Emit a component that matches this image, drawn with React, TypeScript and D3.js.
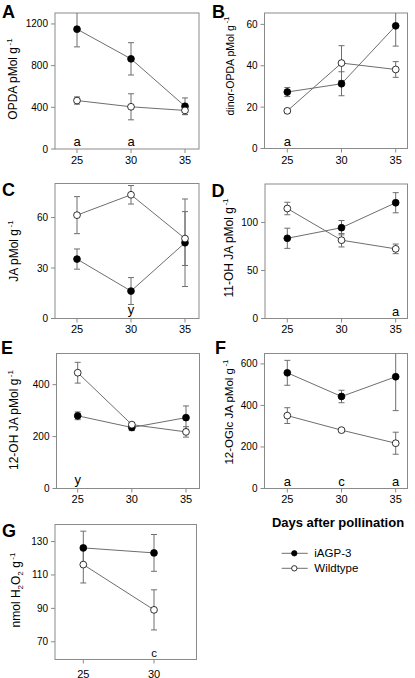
import React from 'react';
import * as d3 from 'd3';

// ---------- data ----------
const days = [25, 30, 35];
const daysG = [25, 30];

const opdaIagp = [1150, 865, 410];
const opdaIagpErr = [170, 155, 80];
const opdaWt = [465, 405, 370];
const opdaWtErr = [35, 125, 40];
const opdaLetters = ['a', 'a', ''];
const opdaTicks = [0, 400, 800, 1200];

const dinorIagp = [27.3, 31.3, 59.3];
const dinorIagpErr = [2.2, 5.8, 9.8];
const dinorWt = [18.2, 41.3, 38.2];
const dinorWtErr = [1, 8.4, 3.8];
const dinorLetters = ['a', '', ''];
const dinorTicks = [0, 20, 40, 60];

const jaIagp = [35.3, 16.3, 45];
const jaIagpErr = [6, 8, 26];
const jaWt = [61.4, 73.5, 47.5];
const jaWtErr = [11, 5.5, 16];
const jaLetters = ['', 'y', ''];
const jaTicks = [0, 30, 60];

const oh11Iagp = [83.5, 94.5, 120.5];
const oh11IagpErr = [10.5, 7.5, 10.5];
const oh11Wt = [114.5, 81.5, 72.5];
const oh11WtErr = [6.5, 7, 5];
const oh11Letters = ['', '', 'a'];
const oh11Ticks = [0, 50, 100];

const oh12Iagp = [280, 235, 273];
const oh12IagpErr = [15, 12, 45];
const oh12Wt = [446, 246, 218];
const oh12WtErr = [40, 8, 20];
const oh12Letters = ['y', '', ''];
const oh12Ticks = [0, 200, 400];

const oglcIagp = [557, 443, 538];
const oglcIagpErr = [60, 30, 163];
const oglcWt = [351, 281, 218];
const oglcWtErr = [38, 8, 53];
const oglcLetters = ['a', 'c', 'a'];
const oglcTicks = [0, 200, 400, 600];

const h2o2Iagp = [126.2, 123.2];
const h2o2IagpErr = [10, 11];
const h2o2Wt = [116.2, 89.1];
const h2o2WtErr = [11, 12];
const h2o2Letters = ['', 'c'];
const h2o2Ticks = [70, 90, 110, 130];

const seriesNames = ['iAGP-3', 'Wildtype'];
const xTitle = 'Days after pollination';

// ---------- layout ----------
const FONT = "'Liberation Sans', Arial, Helvetica, sans-serif";
const GRAY = '#6e6e6e';
const FRAME = '#8a8a8a';

type Panel = {
  id: string;
  tag: string;
  tagX: number;
  tagY: number;
  title: React.ReactNode;
  titleX: number;
  titleY: number;
  titleSize: number;
  x: number[];
  iagp: number[];
  iagpErr: number[];
  wt: number[];
  wtErr: number[];
  letters: string[];
  ticks: number[];
  yDomain: [number, number];
  box: { x0: number; x1: number; y0: number; y1: number };
  xRange: [number, number];
  xDomain: [number, number];
  xLabelDy: number;
  letterSize: number;
};

const unitTitle = (prefix: string) => (
  <>
    <tspan>{prefix + ' pMol g'}</tspan>
    <tspan dx={1.5} dy={-5} fontSize={8}>-1</tspan>
  </>
);

const h2o2Title = (
  <>
    <tspan>nmol H</tspan>
    <tspan dy={3} fontSize={8}>2</tspan>
    <tspan dy={-3}>O</tspan>
    <tspan dy={3} fontSize={8}>2</tspan>
    <tspan dy={-3}> g</tspan>
    <tspan dx={1.5} dy={-5} fontSize={8}>-1</tspan>
  </>
);

const panels: Panel[] = [
  {
    id: 'A', tag: 'A', tagX: 2, tagY: 18, title: unitTitle('OPDA'), titleX: 17, titleY: 79, titleSize: 12,
    x: days, iagp: opdaIagp, iagpErr: opdaIagpErr, wt: opdaWt, wtErr: opdaWtErr,
    letters: opdaLetters, ticks: opdaTicks, yDomain: [0, 1305],
    box: { x0: 55, x1: 199, y0: 13, y1: 149 }, xRange: [77, 185], xDomain: [25, 35], xLabelDy: 14.5, letterSize: 13,
  },
  {
    id: 'B', tag: 'B', tagX: 212, tagY: 18, title: unitTitle('dinor-OPDA'), titleX: 234, titleY: 66, titleSize: 10.5,
    x: days, iagp: dinorIagp, iagpErr: dinorIagpErr, wt: dinorWt, wtErr: dinorWtErr,
    letters: dinorLetters, ticks: dinorTicks, yDomain: [0, 65.5],
    box: { x0: 264.5, x1: 407.5, y0: 13, y1: 148.5 }, xRange: [287.3, 395.7], xDomain: [25, 35], xLabelDy: 15, letterSize: 13,
  },
  {
    id: 'C', tag: 'C', tagX: 2, tagY: 196, title: unitTitle('JA'), titleX: 18, titleY: 251, titleSize: 12,
    x: days, iagp: jaIagp, iagpErr: jaIagpErr, wt: jaWt, wtErr: jaWtErr,
    letters: jaLetters, ticks: jaTicks, yDomain: [0, 80.2],
    box: { x0: 55, x1: 199, y0: 183.5, y1: 318.5 }, xRange: [77, 185], xDomain: [25, 35], xLabelDy: 14.5, letterSize: 13,
  },
  {
    id: 'D', tag: 'D', tagX: 211.5, tagY: 197, title: unitTitle('11-OH JA'), titleX: 233, titleY: 248, titleSize: 12,
    x: days, iagp: oh11Iagp, iagpErr: oh11IagpErr, wt: oh11Wt, wtErr: oh11WtErr,
    letters: oh11Letters, ticks: oh11Ticks, yDomain: [0, 140],
    box: { x0: 265, x1: 407.5, y0: 184, y1: 318.5 }, xRange: [287.3, 395.7], xDomain: [25, 35], xLabelDy: 14.5, letterSize: 13,
  },
  {
    id: 'E', tag: 'E', tagX: 1, tagY: 354, title: unitTitle('12-OH JA'), titleX: 18, titleY: 420, titleSize: 12,
    x: days, iagp: oh12Iagp, iagpErr: oh12IagpErr, wt: oh12Wt, wtErr: oh12WtErr,
    letters: oh12Letters, ticks: oh12Ticks, yDomain: [0, 520],
    box: { x0: 56.5, x1: 199.5, y0: 353.5, y1: 488.5 }, xRange: [77.7, 186], xDomain: [25, 35], xLabelDy: 14.5, letterSize: 13,
  },
  {
    id: 'F', tag: 'F', tagX: 215, tagY: 354, title: unitTitle('12-OGlc JA'), titleX: 233, titleY: 412, titleSize: 11.5,
    x: days, iagp: oglcIagp, iagpErr: oglcIagpErr, wt: oglcWt, wtErr: oglcWtErr,
    letters: oglcLetters, ticks: oglcTicks, yDomain: [0, 650],
    box: { x0: 264.5, x1: 407.5, y0: 353.5, y1: 488.5 }, xRange: [287.3, 395.7], xDomain: [25, 35], xLabelDy: 14.5, letterSize: 13,
  },
  {
    id: 'G', tag: 'G', tagX: 2, tagY: 537, title: h2o2Title, titleX: 20, titleY: 590, titleSize: 12,
    x: daysG, iagp: h2o2Iagp, iagpErr: h2o2IagpErr, wt: h2o2Wt, wtErr: h2o2WtErr,
    letters: h2o2Letters, ticks: h2o2Ticks, yDomain: [59.4, 140.2],
    box: { x0: 55, x1: 196.5, y0: 524.5, y1: 659.5 }, xRange: [83.3, 154], xDomain: [25, 30], xLabelDy: 18, letterSize: 11.5,
  },
];

function PanelView({ p }: { p: Panel }) {
  const { box } = p;
  const xs = d3.scaleLinear().domain(p.xDomain).range(p.xRange);
  const ys = d3.scaleLinear().domain(p.yDomain).range([box.y1, box.y0]);
  const line = d3
    .line<number>()
    .x((_, i) => xs(p.x[i]))
    .y((v) => ys(v));
  const clipId = `clip-${p.id}`;
  const cap = 3;
  const errBars = (vals: number[], errs: number[], key: string) =>
    vals.map((v, i) => {
      const cx = xs(p.x[i]);
      const lo = ys(v - errs[i]);
      const hi = ys(v + errs[i]);
      return (
        <g key={`${key}-${i}`} stroke={GRAY} strokeWidth={1} fill="none">
          <line x1={cx} x2={cx} y1={lo} y2={hi} />
          <line x1={cx - cap} x2={cx + cap} y1={lo} y2={lo} />
          <line x1={cx - cap} x2={cx + cap} y1={hi} y2={hi} />
        </g>
      );
    });
  return (
    <g>
      <defs>
        <clipPath id={clipId}>
          <rect x={box.x0} y={box.y0} width={box.x1 - box.x0} height={box.y1 - box.y0} />
        </clipPath>
      </defs>
      <text x={p.tagX} y={p.tagY} fontFamily={FONT} fontWeight="bold" fontSize={18}>
        {p.tag}
      </text>
      <rect
        x={box.x0}
        y={box.y0}
        width={box.x1 - box.x0}
        height={box.y1 - box.y0}
        fill="none"
        stroke={FRAME}
        strokeWidth={1}
      />
      {p.ticks.map((t) => (
        <g key={`yt-${t}`}>
          <line x1={box.x0 - 4} x2={box.x0} y1={ys(t)} y2={ys(t)} stroke={FRAME} />
          <text x={box.x0 - 7} y={ys(t)} dy="0.35em" textAnchor="end" fontFamily={FONT} fontSize={10}>
            {t}
          </text>
        </g>
      ))}
      {p.x.map((d) => (
        <g key={`xt-${d}`}>
          <line x1={xs(d)} x2={xs(d)} y1={box.y1} y2={box.y1 + 4} stroke={FRAME} />
          <text x={xs(d)} y={box.y1 + p.xLabelDy} textAnchor="middle" fontFamily={FONT} fontSize={11}>
            {d}
          </text>
        </g>
      ))}
      <text
        transform={`translate(${p.titleX},${p.titleY}) rotate(-90)`}
        textAnchor="middle"
        fontFamily={FONT}
        fontSize={p.titleSize}
      >
        {p.title}
      </text>
      {p.letters.map((l, i) =>
        l ? (
          <text
            key={`lt-${i}`}
            x={xs(p.x[i])}
            y={box.y1 - (l === 'y' ? 5 : 3)}
            textAnchor="middle"
            fontFamily={FONT}
            fontSize={p.letterSize}
          >
            {l}
          </text>
        ) : null
      )}
      <g clipPath={`url(#${clipId})`}>
        {errBars(p.iagp, p.iagpErr, 'ei')}
        {errBars(p.wt, p.wtErr, 'ew')}
        <path d={line(p.iagp) || ''} fill="none" stroke={GRAY} strokeWidth={1} />
        <path d={line(p.wt) || ''} fill="none" stroke={GRAY} strokeWidth={1} />
      </g>
      {p.iagp.map((v, i) => (
        <circle key={`mi-${i}`} cx={xs(p.x[i])} cy={ys(v)} r={3.4} fill="#000" stroke="#000" strokeWidth={0.8} />
      ))}
      {p.wt.map((v, i) => (
        <circle key={`mw-${i}`} cx={xs(p.x[i])} cy={ys(v)} r={3.4} fill="#fff" stroke="#000" strokeWidth={0.8} />
      ))}
    </g>
  );
}

export default function App() {
  const legendY = [553.3, 568.3];
  return (
    <svg
      width={415}
      height={678}
      viewBox="0 0 415 678"
      style={{ position: 'absolute', left: 0, top: 0, background: '#fff' }}
    >
      <rect x={0} y={0} width={415} height={678} fill="#fff" />
      {panels.map((p) => (
        <PanelView key={p.id} p={p} />
      ))}
      <text x={338} y={527} textAnchor="middle" fontFamily={FONT} fontWeight="bold" fontSize={13}>
        {xTitle}
      </text>
      {seriesNames.map((name, i) => (
        <g key={name}>
          <line x1={281.7} x2={307.7} y1={legendY[i]} y2={legendY[i]} stroke={GRAY} strokeWidth={1} />
          <circle
            cx={294.3}
            cy={legendY[i]}
            r={2.7}
            fill={i === 0 ? '#000' : '#fff'}
            stroke="#000"
            strokeWidth={0.8}
          />
          <text x={314.3} y={legendY[i]} dy="0.35em" fontFamily={FONT} fontSize={11.5}>
            {name}
          </text>
        </g>
      ))}
    </svg>
  );
}
